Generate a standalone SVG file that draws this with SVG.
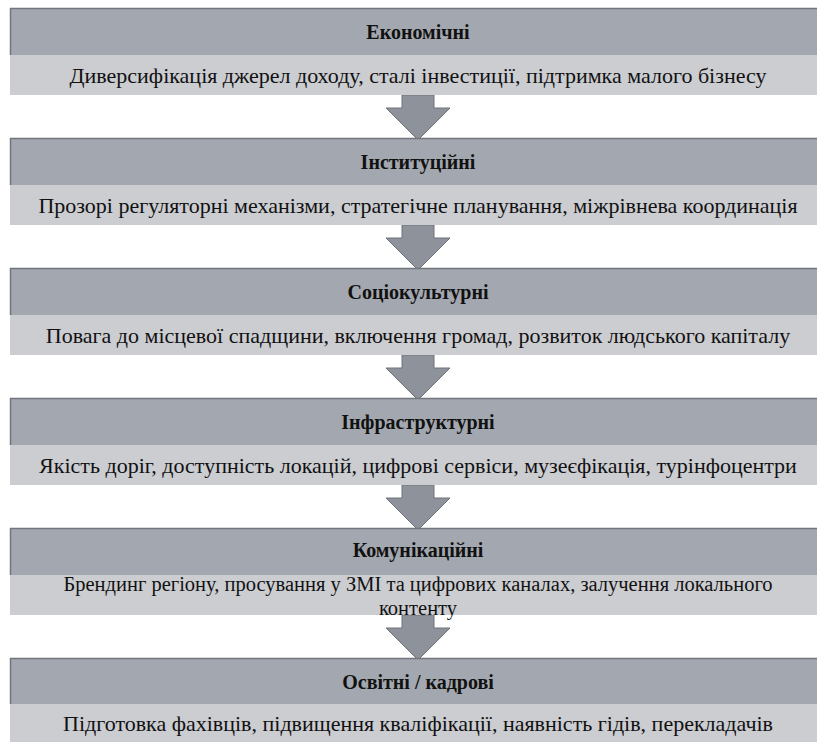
<svg xmlns="http://www.w3.org/2000/svg" width="817" height="742" viewBox="0 0 817 742">
<defs>
<style>
.hdr{fill:#a3a7af}
.body{fill:#cccdd1}
.edge{stroke:#72757c;stroke-width:1.5}
.ht{font-weight:bold;font-size:20px;fill:#111;text-anchor:middle}
.bt{font-size:22px;fill:#111;text-anchor:middle}
.bt2{font-size:20.5px;fill:#111;text-anchor:middle}
.arr{fill:#8e929a;stroke:#6f727a;stroke-width:1}
</style>
<polygon id="arrowShape" class="arr" points="-16,0 16,0 16,13 32,13 0,45 -32,13 -16,13"/>
</defs>
<rect width="817" height="742" fill="#ffffff"/>
<g id="connectors">
<use href="#arrowShape" x="418" y="95"/>
<use href="#arrowShape" x="418" y="225"/>
<use href="#arrowShape" x="418" y="355"/>
<use href="#arrowShape" x="418" y="485"/>
<use href="#arrowShape" x="418" y="615"/>
</g>
<g id="nodes" font-family="Liberation Serif, Tinos, Times New Roman, Noto Serif, DejaVu Serif, serif">
<g id="n1">
<rect class="hdr" x="10" y="8" width="807" height="47"/>
<rect class="body" x="10" y="55" width="807" height="40"/>
<line class="edge" x1="10" y1="8.5" x2="817" y2="8.5"/>
<line class="edge" x1="10.5" y1="8" x2="10.5" y2="55"/>
<text class="ht" x="418" y="39">Економічні</text>
<text class="bt" x="418" y="83">Диверсифікація джерел доходу, сталі інвестиції, підтримка малого бізнесу</text>
</g>
<g id="n2">
<rect class="hdr" x="10" y="138" width="807" height="47"/>
<rect class="body" x="10" y="185" width="807" height="40"/>
<line class="edge" x1="10" y1="138.5" x2="817" y2="138.5"/>
<line class="edge" x1="10.5" y1="138" x2="10.5" y2="185"/>
<text class="ht" x="418" y="169">Інституційні</text>
<text class="bt" x="418" y="213">Прозорі регуляторні механізми, стратегічне планування, міжрівнева координація</text>
</g>
<g id="n3">
<rect class="hdr" x="10" y="268" width="807" height="47"/>
<rect class="body" x="10" y="315" width="807" height="40"/>
<line class="edge" x1="10" y1="268.5" x2="817" y2="268.5"/>
<line class="edge" x1="10.5" y1="268" x2="10.5" y2="315"/>
<text class="ht" x="418" y="299">Соціокультурні</text>
<text class="bt" x="418" y="343">Повага до місцевої спадщини, включення громад, розвиток людського капіталу</text>
</g>
<g id="n4">
<rect class="hdr" x="10" y="398" width="807" height="47"/>
<rect class="body" x="10" y="445" width="807" height="40"/>
<line class="edge" x1="10" y1="398.5" x2="817" y2="398.5"/>
<line class="edge" x1="10.5" y1="398" x2="10.5" y2="445"/>
<text class="ht" x="418" y="429">Інфраструктурні</text>
<text class="bt" x="418" y="473">Якість доріг, доступність локацій, цифрові сервіси, музеєфікація, турінфоцентри</text>
</g>
<g id="n5">
<rect class="hdr" x="10" y="528" width="807" height="47"/>
<rect class="body" x="10" y="575" width="807" height="40"/>
<line class="edge" x1="10" y1="528.5" x2="817" y2="528.5"/>
<line class="edge" x1="10.5" y1="528" x2="10.5" y2="575"/>
<text class="ht" x="418" y="557">Комунікаційні</text>
<text class="bt2" x="418" y="591">Брендинг регіону, просування у ЗМІ та цифрових каналах, залучення локального</text>
<text class="bt2" x="418" y="615">контенту</text>
</g>
<g id="n6">
<rect class="hdr" x="10" y="658" width="807" height="46"/>
<rect class="body" x="10" y="704" width="807" height="38"/>
<line class="edge" x1="10" y1="658.5" x2="817" y2="658.5"/>
<line class="edge" x1="10.5" y1="658" x2="10.5" y2="704"/>
<text class="ht" x="418" y="689">Освітні / кадрові</text>
<text class="bt" x="418" y="731">Підготовка фахівців, підвищення кваліфікації, наявність гідів, перекладачів</text>
</g>
</g>
</svg>
